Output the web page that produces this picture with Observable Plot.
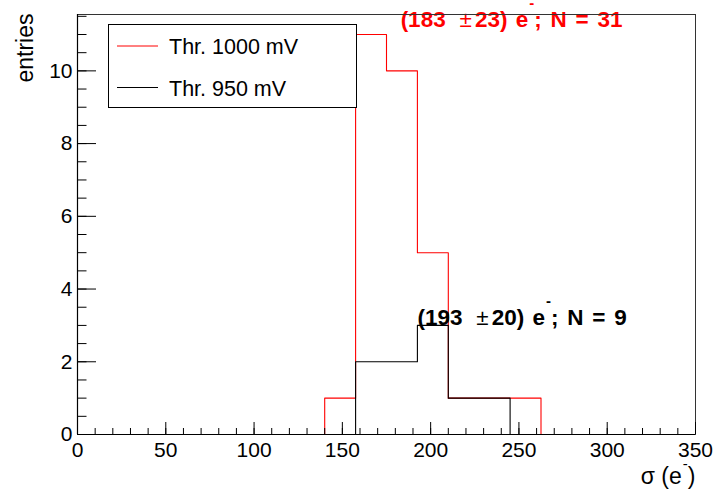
<!DOCTYPE html>
<html>
<head>
<meta charset="utf-8">
<script src="https://cdn.jsdelivr.net/npm/d3@7"></script>
<script src="https://cdn.jsdelivr.net/npm/@observablehq/plot@0.6"></script>
<style>
  html, body { margin: 0; padding: 0; background: #fff; }
  #chart { width: 715px; height: 489px; }
</style>
</head>
<body>
<div id="chart"></div>
<script>
// ---- data ----
const binEdges = [140, 157.5, 175, 192.5, 210, 227.5, 245, 262.5];
const countsThr1000 = [1, 11, 10, 5, 1, 1, 1];
const countsThr950 = [0, 2, 2, 3, 1, 1, 0];
const seriesNames = ["Thr. 1000 mV", "Thr. 950 mV"];
const seriesColors = ["#ff0000", "#000000"];
const fitMeans = [183, 193];
const fitErrors = [23, 20];
const fitCounts = [31, 9];
const annotX = [183, 192.5];
const annotY = [11.22, 3.0];
const xMajorTicks = [0, 50, 100, 150, 200, 250, 300, 350];
const xMinorTicks = d3.range(0, 351, 10);
const yMajorTicks = [0, 2, 4, 6, 8, 10];
const yMinorTicks = d3.range(0, 11.51, 0.5);
const xTitle = "σ (e^-)";
const yTitle = "entries";

// ---- layout ----
const W = 715, H = 489;
const mL = 77, mR = 20, mT = 14, mB = 55;
const plotW = W - mL - mR, plotH = H - mT - mB;
const font = "'Liberation Sans', Arial, Helvetica, sans-serif";

function stepPoints(edges, counts) {
  let first = counts.findIndex(c => c > 0);
  let last = counts.length - 1;
  while (last >= 0 && counts[last] <= 0) last--;
  const pts = [{x: edges[first], y: 0}];
  for (let i = first; i <= last; i++) pts.push({x: edges[i], y: counts[i]});
  pts.push({x: edges[last + 1], y: 0});
  return pts;
}
const redPts = stepPoints(binEdges, countsThr1000);
const blackPts = stepPoints(binEdges, countsThr950);

const annots = fitMeans.map((m, i) => ({
  x: annotX[i], y: annotY[i], color: seriesColors[i],
  text: `(${m} ± ${fitErrors[i]}) e^-; N = ${fitCounts[i]}`
}));

const plot = Plot.plot({
  width: W, height: H,
  marginLeft: mL, marginRight: mR, marginTop: mT, marginBottom: mB,
  x: {domain: [0, 350], axis: null},
  y: {domain: [0, 11.55], axis: null},
  style: {fontFamily: font, background: "#fff", color: "#000"},
  marks: [
    Plot.line(redPts, {x: "x", y: "y", curve: "step-after", stroke: seriesColors[0], strokeWidth: 1.1}),
    Plot.line(blackPts, {x: "x", y: "y", curve: "step-after", stroke: seriesColors[1], strokeWidth: 1.1}),
    Plot.text(annots, {x: "x", y: "y", text: "text", fill: "color", fontWeight: "bold", fontSize: 22.5,
      textAnchor: "start", lineAnchor: "bottom"}),
    Plot.frame({stroke: "#333", strokeWidth: 1}),
    Plot.ruleY([0], {stroke: "#000", strokeWidth: 1.2}),
    Plot.ruleX([0], {stroke: "#000", strokeWidth: 1.2}),
    // x ticks (inward)
    Plot.ruleX(xMinorTicks, {x: d => d, insetTop: plotH - 6, stroke: "#000"}),
    Plot.ruleX(xMajorTicks, {x: d => d, insetTop: plotH - 12, stroke: "#000"}),
    // y ticks (inward)
    Plot.ruleY(yMinorTicks, {y: d => d, insetRight: plotW - 9.5, stroke: "#000"}),
    Plot.ruleY(yMajorTicks, {y: d => d, insetRight: plotW - 19, stroke: "#000"}),
    // tick labels
    Plot.text(xMajorTicks, {x: d => d, text: d => String(d), frameAnchor: "bottom", lineAnchor: "top",
      dy: 8, fontSize: 21, fill: "#000"}),
    Plot.text(yMajorTicks, {y: d => d, text: d => String(d), frameAnchor: "left", textAnchor: "end",
      dx: -5, fontSize: 21, fill: "#000"}),
    // axis titles
    Plot.text([xTitle], {frameAnchor: "bottom-right", text: d => d, textAnchor: "end", lineAnchor: "bottom",
      dy: 49, fontSize: 23, fill: "#000"}),
    Plot.text([yTitle], {frameAnchor: "top-left", text: d => d, textAnchor: "end", lineAnchor: "bottom",
      rotate: -90, dx: -45, dy: -1, fontSize: 23, fill: "#000"})
  ]
});

// rich text: ± in regular weight, superscript minus
const svgNS = "http://www.w3.org/2000/svg";
plot.querySelectorAll("text").forEach(el => {
  const s = el.textContent;
  if (!s.includes("^-")) return;
  const isAnnot = s.includes("±");
  const rise = isAnnot ? 19 : 15;
  el.textContent = "";
  el.setAttribute("style", (el.getAttribute("style") || "") + ";white-space:pre");
  const tokens = s.split(/(±|e\^-)/);
  let afterPm = false, raised = false;
  for (const t of tokens) {
    if (!t) continue;
    if (t === "±") {
      const ts = document.createElementNS(svgNS, "tspan");
      ts.textContent = "±";
      ts.setAttribute("font-weight", "normal");
      ts.setAttribute("dx", 7.5);
      el.appendChild(ts);
      afterPm = true;
    } else if (t === "e^-") {
      const te = document.createElementNS(svgNS, "tspan");
      te.textContent = "e";
      if (isAnnot) te.setAttribute("dx", 2);
      el.appendChild(te);
      const ts = document.createElementNS(svgNS, "tspan");
      ts.textContent = "-";
      ts.setAttribute("font-size", 15);
      ts.setAttribute("dy", -rise);
      ts.setAttribute("dx", 1);
      el.appendChild(ts);
      raised = true;
    } else {
      const ts = document.createElementNS(svgNS, "tspan");
      ts.textContent = t;
      if (raised) {
        ts.setAttribute("dy", rise); raised = false;
        if (isAnnot) ts.setAttribute("word-spacing", 2.5);
      }
      if (afterPm) { ts.setAttribute("dx", -3); afterPm = false; }
      el.appendChild(ts);
    }
  }
});

// legend box
const svg = d3.select(plot);
const lg = svg.append("g").attr("font-family", font).attr("font-size", 21.5).attr("text-anchor", "start");
lg.append("rect").attr("x", 108.5).attr("y", 24.5).attr("width", 248).attr("height", 83)
  .attr("fill", "#fff").attr("stroke", "#000").attr("stroke-width", 1);
const rowY = [46, 87.5];
seriesNames.forEach((name, i) => {
  lg.append("line").attr("x1", 117).attr("x2", 158).attr("y1", rowY[i]).attr("y2", rowY[i])
    .attr("stroke", seriesColors[i]).attr("stroke-width", 1);
  lg.append("text").attr("x", 169).attr("y", rowY[i] + 8.3).attr("fill", "#000")
    .attr("text-anchor", "start").text(name);
});

document.getElementById("chart").appendChild(plot);
</script>
</body>
</html>
